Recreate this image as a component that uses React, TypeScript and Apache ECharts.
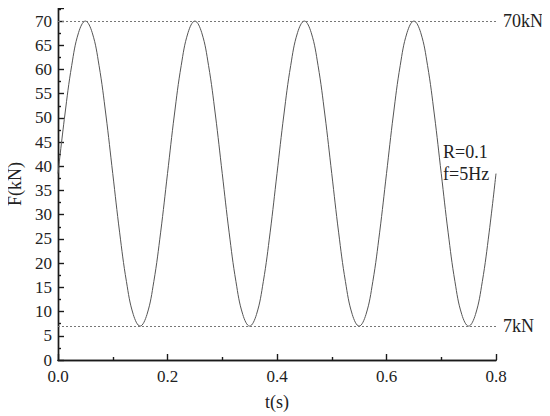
import React, { useEffect, useRef } from "react";
import * as echarts from "echarts";

const times: number[] = [
  0, 0.0125, 0.025, 0.0375, 0.05, 0.0625, 0.075, 0.0875, 0.1, 0.1125, 0.125, 0.1375, 0.15, 0.1625, 0.175, 0.1875,
  0.2, 0.2125, 0.225, 0.2375, 0.25, 0.2625, 0.275, 0.2875, 0.3, 0.3125, 0.325, 0.3375, 0.35, 0.3625, 0.375, 0.3875,
  0.4, 0.4125, 0.425, 0.4375, 0.45, 0.4625, 0.475, 0.4875, 0.5, 0.5125, 0.525, 0.5375, 0.55, 0.5625, 0.575, 0.5875,
  0.6, 0.6125, 0.625, 0.6375, 0.65, 0.6625, 0.675, 0.6875, 0.7, 0.7125, 0.725, 0.7375, 0.75, 0.7625, 0.775, 0.7875,
  0.8,
];
const forces: number[] = [
  38.5, 50.6, 60.8, 67.6, 70, 67.6, 60.8, 50.6, 38.5, 26.4, 16.2, 9.4, 7, 9.4, 16.2, 26.4,
  38.5, 50.6, 60.8, 67.6, 70, 67.6, 60.8, 50.6, 38.5, 26.4, 16.2, 9.4, 7, 9.4, 16.2, 26.4,
  38.5, 50.6, 60.8, 67.6, 70, 67.6, 60.8, 50.6, 38.5, 26.4, 16.2, 9.4, 7, 9.4, 16.2, 26.4,
  38.5, 50.6, 60.8, 67.6, 70, 67.6, 60.8, 50.6, 38.5, 26.4, 16.2, 9.4, 7, 9.4, 16.2, 26.4,
  38.5,
];
const maxLoad = 70;
const minLoad = 7;
const maxLabel = "70kN";
const minLabel = "7kN";
const noteLines = ["R=0.1", "f=5Hz"];

const FONT = "'Liberation Serif', 'Times New Roman', serif";

export default function App() {
  const ref = useRef<HTMLDivElement>(null);
  useEffect(() => {
    if (!ref.current) return;
    const chart = echarts.init(ref.current, undefined, { renderer: "svg" });
    const axisLine = { show: true, lineStyle: { color: "#1a1a1a", width: 1.4 } };
    chart.setOption({
      animation: false,
      backgroundColor: "#fff",
      grid: { left: 58, right: 54, top: 8, bottom: 56, containLabel: false, outerBoundsMode: "none" },
      xAxis: [
        {
          type: "value",
          min: 0,
          max: 0.8,
          interval: 0.2,
          name: "t(s)",
          nameLocation: "middle",
          nameGap: 33,
          nameTextStyle: { fontFamily: FONT, fontSize: 18, color: "#222" },
          axisLine,
          axisTick: { show: true, inside: true, length: 6, lineStyle: { color: "#1a1a1a", width: 1.4 } },
          minorTick: { show: true, splitNumber: 2, length: 3, lineStyle: { color: "#1a1a1a", width: 1.4 } },
          splitLine: { show: false },
          axisLabel: {
            fontFamily: FONT,
            fontSize: 17,
            color: "#222",
            margin: 8,
            formatter: (v: number) => v.toFixed(1),
          },
        },
        {
          type: "value",
          position: "top",
          min: 0,
          max: 0.8,
          axisLine,
          axisTick: { show: false },
          axisLabel: { show: false },
          splitLine: { show: false },
        },
      ],
      yAxis: [
        {
          type: "value",
          min: 0,
          max: 72.7,
          interval: 5,
          name: "F(kN)",
          nameLocation: "middle",
          nameGap: 32,
          nameTextStyle: { fontFamily: FONT, fontSize: 18, color: "#222" },
          axisLine,
          axisTick: { show: true, inside: true, length: 6, lineStyle: { color: "#1a1a1a", width: 1.4 } },
          minorTick: { show: true, splitNumber: 2, length: 3, lineStyle: { color: "#1a1a1a", width: 1.4 } },
          splitLine: { show: false },
          axisLabel: {
            fontFamily: FONT,
            fontSize: 17,
            color: "#222",
            margin: 6,
            showMaxLabel: false,
            formatter: (v: number) => (v > 70 ? "" : String(v)),
          },
        },
        {
          type: "value",
          position: "right",
          min: 0,
          max: 72.7,
          axisLine,
          axisTick: { show: false },
          axisLabel: { show: false },
          splitLine: { show: false },
        },
      ],
      series: [
        {
          type: "line",
          data: times.map((t, i) => [t, forces[i]]),
          smooth: 0.4,
          showSymbol: false,
          lineStyle: { color: "#555", width: 1 },
          markLine: {
            silent: true,
            symbol: "none",
            lineStyle: { type: [2, 2], color: "#777", width: 1 },
            label: {
              show: true,
              position: "end",
              fontFamily: FONT,
              fontSize: 18,
              color: "#222",
              distance: 7,
            },
            data: [
              { yAxis: maxLoad, label: { formatter: maxLabel } },
              { yAxis: minLoad, label: { formatter: minLabel } },
            ],
          },
        },
      ],
      graphic: [
        {
          type: "text",
          left: 443,
          top: 141,
          style: {
            text: noteLines.join("\n"),
            fontFamily: FONT,
            fontSize: 18,
            lineHeight: 22,
            fill: "#222",
          },
        },
      ],
    });
    return () => chart.dispose();
  }, []);
  return <div ref={ref} style={{ width: 550, height: 416, marginLeft: -8, marginTop: -8 }} />;
}
